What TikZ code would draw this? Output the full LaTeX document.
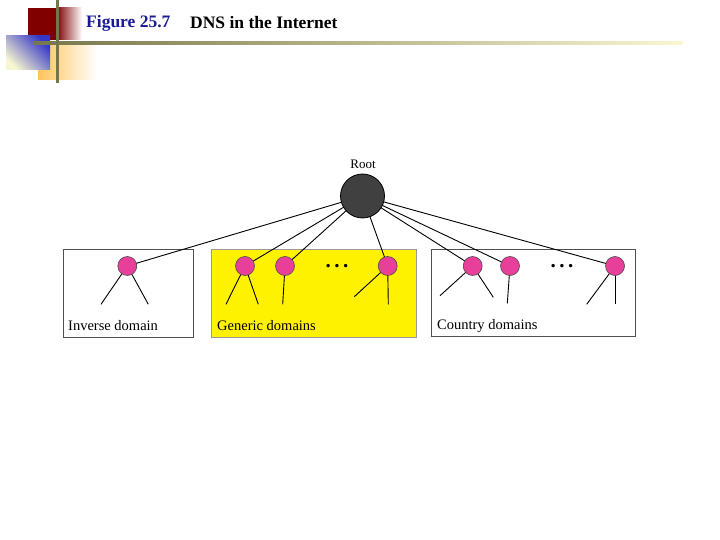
\documentclass[tikz,border=0pt]{standalone}
\usepackage{fontspec}
\setmainfont{Liberation Serif}
\usetikzlibrary{backgrounds}
\pgfdeclarelayer{edges}
\pgfsetlayers{background,edges,main}
\definecolor{darkred}{HTML}{800000}
\definecolor{olivebar}{HTML}{76764C}
\definecolor{paleyel}{HTML}{F8F8D0}
\definecolor{orangesq}{HTML}{FFC45A}
\definecolor{bluesq}{HTML}{3535C8}
\definecolor{titleblue}{HTML}{1A1A96}
\definecolor{pinknode}{HTML}{E8409A}
\definecolor{rootgray}{HTML}{404040}
\definecolor{boxline}{HTML}{505050}
\tikzset{
  domainbox/.style={draw=boxline, line width=0.9pt},
  rootnode/.style={circle, draw=black, fill=rootgray, line width=0.8pt, minimum size=44pt, inner sep=0pt},
  leafnode/.style={circle, draw=black!70, fill=pinknode, line width=0.6pt, minimum size=19pt, inner sep=0pt},
  edge/.style={draw=black, line width=0.9pt},
  boxlabel/.style={anchor=west, inner sep=0pt, font=\fontsize{14.5}{16}\selectfont},
  dotsnode/.style={inner sep=0pt, font=\fontsize{21}{21}\selectfont\bfseries},
  titlefont/.style={anchor=west, inner sep=0pt, font=\fontsize{17.5}{20}\selectfont\bfseries}
}
\begin{document}
\begin{tikzpicture}[x=1pt,y=-1pt]
\useasboundingbox (0,0) rectangle (720,540);
% decoration
\fill[darkred] (28,8) rectangle (57,40);
\shade[left color=darkred, right color=white] (56.5,8) rectangle (82,40);
\shade[left color=orangesq, right color=white] (38,43) rectangle (97,80);
\shade[top color=bluesq, bottom color=paleyel, shading angle=-45] (6,36) rectangle (50,70);
\shade[left color=olivebar, right color=paleyel] (33,41.5) rectangle (683,44.5);
\fill[olivebar] (55.8,0) rectangle (58.8,83);
% title
\node[titlefont, text=titleblue] (fig) at (86,23) {Figure 25.7};
\node[titlefont, text=black] (ttl) at (190,23) {DNS in the Internet};
% boxes
\begin{pgfonlayer}{background}
\node[domainbox, fill=white, minimum width=130pt, minimum height=88pt, anchor=north west, inner sep=0pt] (binv) at (62.5,249.3) {};
\node[domainbox, draw=black!40, fill=yellow, minimum width=204.5pt, minimum height=88pt, anchor=north west, inner sep=0pt] (bgen) at (211,249.3) {};
\node[domainbox, fill=white, minimum width=204.5pt, minimum height=87pt, anchor=north west, inner sep=0pt] (bcty) at (430.7,249.3) {};
\end{pgfonlayer}
\node[boxlabel] (linv) at (68,326) {Inverse domain};
\node[boxlabel] (lgen) at (217,326) {Generic domains};
\node[boxlabel] (lcty) at (437,326) {Country domains};
% nodes
\node[rootnode] (root) at (362.5,196) {};
\node[font=\fontsize{13}{14}\selectfont, inner sep=0pt] (rootlbl) at (363,164) {Root};
\node[leafnode] (i1) at (127.3,266) {};
\node[leafnode] (g1) at (245,266) {};
\node[leafnode] (g2) at (285,266) {};
\node[leafnode] (g3) at (387.7,266) {};
\node[leafnode] (c1) at (472.7,266) {};
\node[leafnode] (c2) at (510,266) {};
\node[leafnode] (c3) at (615,266) {};
\node[dotsnode] (gdots) at (337,266.5) {.\hspace{3.5pt}.\hspace{3.5pt}.};
\node[dotsnode] (cdots) at (562,266.5) {.\hspace{3.5pt}.\hspace{3.5pt}.};
% child end points
\coordinate (i1a) at (101,304.3);
\coordinate (i1b) at (148.3,304.3);
\coordinate (g1a) at (226,304.3);
\coordinate (g1b) at (258.3,304.3);
\coordinate (g2a) at (282.7,304.3);
\coordinate (g3a) at (354.3,296.7);
\coordinate (g3b) at (388.3,304.3);
\coordinate (c1a) at (440,295.7);
\coordinate (c1b) at (493.3,297.3);
\coordinate (c2a) at (507.3,303.3);
\coordinate (c3a) at (586.7,304.3);
\coordinate (c3b) at (615,304.3);
\begin{pgfonlayer}{edges}
\foreach \n in {i1,g1,g2,g3,c1,c2,c3}
  \draw[edge] (root.center) -- (\n.center);
\draw[edge] (i1.center) -- (i1a);
\draw[edge] (i1.center) -- (i1b);
\draw[edge] (g1.center) -- (g1a);
\draw[edge] (g1.center) -- (g1b);
\draw[edge] (g2.center) -- (g2a);
\draw[edge] (g3.center) -- (g3a);
\draw[edge] (g3.center) -- (g3b);
\draw[edge] (c1.center) -- (c1a);
\draw[edge] (c1.center) -- (c1b);
\draw[edge] (c2.center) -- (c2a);
\draw[edge] (c3.center) -- (c3a);
\draw[edge] (c3.center) -- (c3b);
\end{pgfonlayer}
\end{tikzpicture}
\end{document}
